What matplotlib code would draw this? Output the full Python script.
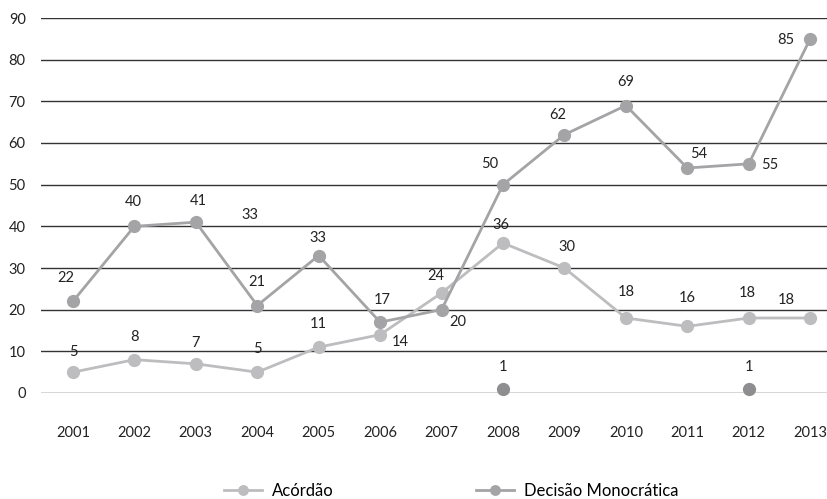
import matplotlib
matplotlib.use("Agg")
import matplotlib.pyplot as plt

plt.rcParams['font.family'] = ['Lato', 'DejaVu Sans']

anos = [2001, 2002, 2003, 2004, 2005, 2006, 2007, 2008, 2009, 2010, 2011, 2012, 2013]
acordao = [5, 8, 7, 5, 11, 14, 24, 36, 30, 18, 16, 18, 18]
decisao = [22, 40, 41, 21, 33, 17, 20, 50, 62, 69, 54, 55, 85]
outros_anos = [2008, 2012]
outros = [1, 1]

# label offsets in pixels (dx, dy) for each point
off_acordao = [(0, 20), (0, 23), (0, 21), (0, 23), (0, 23), (20, -7), (-6, 17),
               (-2, 18), (2, 21), (0, 26), (0, 28), (-1, 25), (-24, 18)]
off_decisao = [(-7, 23), (-1, 24), (2, 21), (0, 23), (-1, 18), (2, 22), (16, -12),
               (-13, 21), (-7, 20), (0, 24), (11, 14), (21, -1), (-24, -1)]

c_ac = '#bdbdc0'
c_de = '#a4a4a7'
c_ou = '#8e8e91'

fig = plt.figure(figsize=(8.28, 4.99), dpi=100)
ax = fig.add_axes([41 / 828, 1 - 393 / 499, 1 - 41 / 828, (393 - 18) / 499])

for y in range(0, 91, 10):
    ax.axhline(y, color='#333333', lw=1.0, zorder=0)

l1, = ax.plot(anos, acordao, '-o', color=c_ac, lw=2, ms=8.5, clip_on=False,
              label='Acórdão', zorder=3)
l2, = ax.plot(anos, decisao, '-o', color=c_de, lw=2, ms=8.5, clip_on=False,
              label='Decisão Monocrática', zorder=4)
ax.plot(outros_anos, outros, 'o', color=c_ou, ms=8.5, clip_on=False, zorder=5)

for x, v, o in zip(anos, acordao, off_acordao):
    ax.annotate(str(v), (x, v), xytext=o, textcoords='offset pixels',
                ha='center', va='center', fontsize=10.5, color='#222222')
for x, v, o in zip(anos, decisao, off_decisao):
    ax.annotate(str(v), (x, v), xytext=o, textcoords='offset pixels',
                ha='center', va='center', fontsize=10.5, color='#222222')
for x, v in zip(outros_anos, outros):
    ax.annotate(str(v), (x, v), xytext=(0, 22), textcoords='offset pixels',
                ha='center', va='center', fontsize=10.5, color='#222222')
# loose label over 2004
ax.annotate('33', (2004, 41), xytext=(-7, 7), textcoords='offset pixels',
            ha='center', va='center', fontsize=10.5, color='#222222')

ax.set_xlim(2000.48, 2013.29)
ax.set_ylim(0, 90)
ax.set_xticks(anos)
ax.set_yticks(range(0, 91, 10))
ax.tick_params(axis='both', length=0, labelsize=10.5, colors='#222222')
ax.tick_params(axis='x', pad=24)
ax.tick_params(axis='y', pad=11)
for s in ax.spines.values():
    s.set_visible(False)

fig.legend(handles=[l1, l2], loc='center', bbox_to_anchor=(0.545, 1 - 491 / 499),
           ncol=2, frameon=False, fontsize=12, handlelength=2.3,
           columnspacing=8.5, markerscale=0.8, handletextpad=0.6)

fig.savefig('out.png', dpi=100)
